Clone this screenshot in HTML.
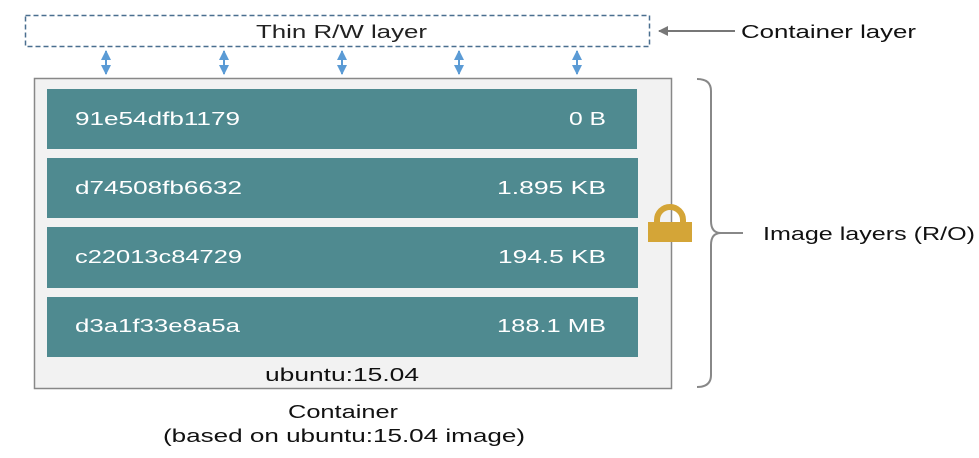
<!DOCTYPE html>
<html><head><style>
body{margin:0;background:#fff;}
svg text{font-family:"Liberation Sans",sans-serif;}
</style></head><body>
<svg width="979" height="453" viewBox="0 0 979 453" xmlns="http://www.w3.org/2000/svg">
<defs>
<marker id="ah" viewBox="0 0 10 10" refX="9" refY="5" markerWidth="5" markerHeight="5" orient="auto-start-reverse"><path d="M0,0 L10,5 L0,10 z" fill="#5b9bd5"/></marker>
<marker id="ag" viewBox="0 0 10 10" refX="9" refY="5" markerWidth="5" markerHeight="5" orient="auto"><path d="M0,0 L10,5 L0,10 z" fill="#777"/></marker>
</defs>
<rect x="25.5" y="15.5" width="624" height="31" fill="#fff" stroke="#4a6f8f" stroke-width="1.5" stroke-dasharray="5,3"/>
<text x="256" y="38" font-size="18" textLength="171" lengthAdjust="spacingAndGlyphs" fill="#222">Thin R/W layer</text>
<g stroke="#5b9bd5" stroke-width="2" marker-start="url(#ah)" marker-end="url(#ah)">
<line x1="106" y1="51" x2="106" y2="74"/><line x1="224" y1="51" x2="224" y2="74"/><line x1="342" y1="51" x2="342" y2="74"/><line x1="459" y1="51" x2="459" y2="74"/><line x1="577" y1="51" x2="577" y2="74"/>
</g>
<line x1="735" y1="31" x2="659" y2="31" stroke="#777" stroke-width="2" marker-end="url(#ag)"/>
<text x="741" y="38" font-size="18" textLength="175" lengthAdjust="spacingAndGlyphs" fill="#111">Container layer</text>
<rect x="34.5" y="78.5" width="637" height="310" fill="#f2f2f2" stroke="#888" stroke-width="1.5"/>
<g fill="#4f8a90">
<rect x="47" y="89" width="590" height="60"/>
<rect x="47" y="158" width="591" height="60"/>
<rect x="47" y="227" width="591" height="61"/>
<rect x="47" y="297" width="591" height="60"/>
</g>
<g font-size="18" fill="#fff">
<text x="75" y="125" textLength="165" lengthAdjust="spacingAndGlyphs">91e54dfb1179</text><text x="569" y="125" textLength="37" lengthAdjust="spacingAndGlyphs">0 B</text>
<text x="75" y="194" textLength="167" lengthAdjust="spacingAndGlyphs">d74508fb6632</text><text x="497" y="194" textLength="109" lengthAdjust="spacingAndGlyphs">1.895 KB</text>
<text x="75" y="263" textLength="167" lengthAdjust="spacingAndGlyphs">c22013c84729</text><text x="498" y="263" textLength="108" lengthAdjust="spacingAndGlyphs">194.5 KB</text>
<text x="75" y="332" textLength="165" lengthAdjust="spacingAndGlyphs">d3a1f33e8a5a</text><text x="497" y="332" textLength="109" lengthAdjust="spacingAndGlyphs">188.1 MB</text>
</g>
<text x="265" y="381" font-size="18" textLength="154" lengthAdjust="spacingAndGlyphs" fill="#111">ubuntu:15.04</text>
<path d="M657,224 v-4 a13,13 0 0 1 26,0 v4" fill="none" stroke="#d4a537" stroke-width="6"/>
<rect x="648" y="222" width="44" height="20" fill="#d4a537"/>
<path d="M697,79 q14,0 14,12 v130 q0,12 10,12 q-10,0 -10,12 v130 q0,12 -14,12" fill="none" stroke="#888" stroke-width="2"/>
<line x1="721" y1="233" x2="743" y2="233" stroke="#888" stroke-width="2"/>
<text x="763" y="240" font-size="18" textLength="212" lengthAdjust="spacingAndGlyphs" fill="#111">Image layers (R/O)</text>
<text x="288" y="418" font-size="18" textLength="110" lengthAdjust="spacingAndGlyphs" fill="#111">Container</text>
<text x="163" y="442" font-size="18" textLength="362" lengthAdjust="spacingAndGlyphs" fill="#111">(based on ubuntu:15.04 image)</text>
</svg>
</body></html>
